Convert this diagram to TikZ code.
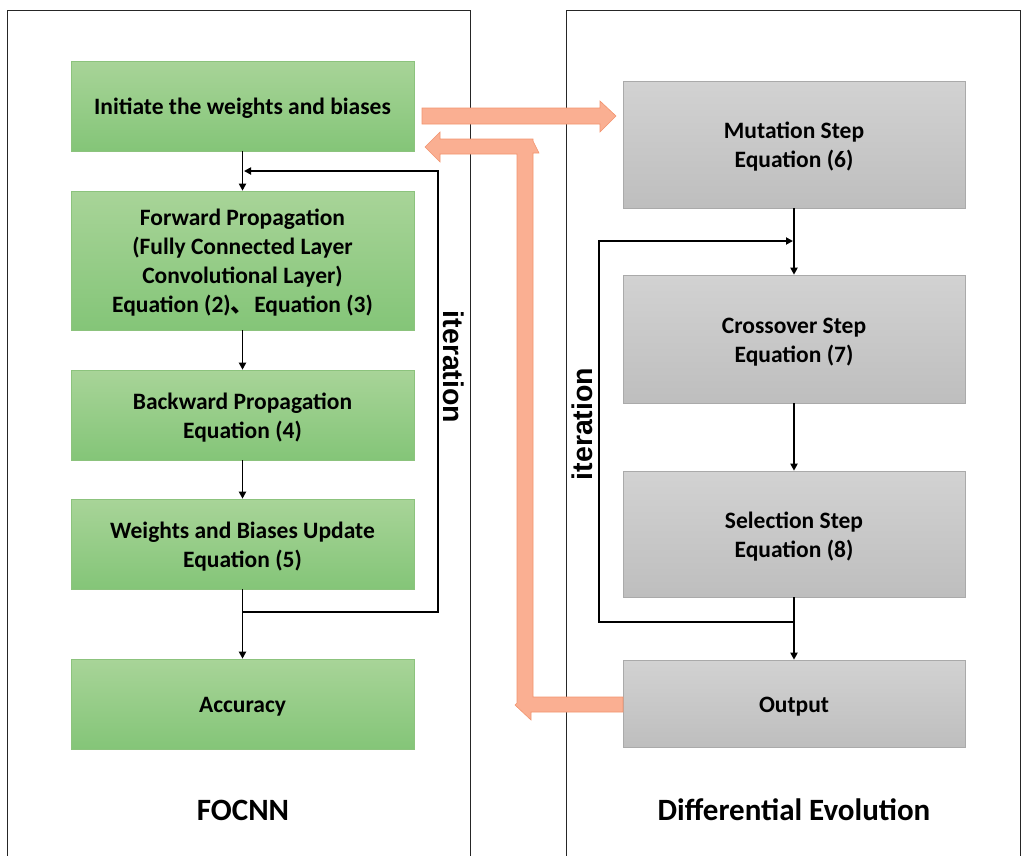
\documentclass[tikz,border=0pt]{standalone}
\usepackage{fontspec}
\setmainfont{Carlito}
\newfontfamily\arialfont{Liberation Sans}
\newfontfamily\cjk{Noto Sans CJK SC}
\usetikzlibrary{arrows.meta}
\newcommand\lowtxt[1]{\raisebox{-3pt}[\height][\depth]{\begin{tabular}{@{}c@{}}#1\end{tabular}}}
\definecolor{gtop}{RGB}{168,212,152}
\definecolor{gbot}{RGB}{132,197,120}
\definecolor{gbrd}{RGB}{140,195,125}
\definecolor{ytop}{RGB}{210,210,210}
\definecolor{ybot}{RGB}{190,190,190}
\definecolor{ybrd}{RGB}{170,170,170}
\definecolor{ofill}{RGB}{250,175,146}
\definecolor{obrd}{RGB}{242,148,110}
\tikzset{
  x=1pt,y=-1pt,
  gbox/.style={draw=gbrd,line width=0.6pt,top color=gtop,bottom color=gbot,minimum width=343pt,inner sep=0pt,font=\fontsize{23.5}{29}\selectfont\bfseries},
  ybox/.style={draw=ybrd,line width=0.6pt,top color=ytop,bottom color=ybot,minimum width=342pt,inner sep=0pt,font=\fontsize{23.5}{29}\selectfont\bfseries},
  conn/.style={line width=1.9pt,-{Triangle[length=7pt,width=7pt]}},
  panel/.style={line width=1pt,draw=black!85},
  itlabel/.style={font=\arialfont\fontsize{28.5}{30}\selectfont\bfseries,inner sep=0pt},
  title/.style={font=\fontsize{31}{34}\selectfont\bfseries,inner sep=0pt},
  blockarrow/.style={fill=ofill,draw=obrd,line width=0.6pt,line join=miter}
}
\begin{document}
\begin{tikzpicture}
\useasboundingbox (0,0) rectangle (1024,855);
% panels
\draw[panel] (7,870) -- (7,10) -- (470,10) -- (470,870);
\draw[panel] (566,870) -- (566,10) -- (1020,10) -- (1020,870);
% green boxes
\node[gbox,minimum height=90pt] (b1) at (242.5,106) {\lowtxt{Initiate the weights and biases}};
\node[gbox,minimum height=139pt] (b2) at (242.5,260.5) {\lowtxt{Forward Propagation\\(Fully Connected Layer\\Convolutional Layer)\\Equation (2){\cjk 、}Equation (3)}};
\node[gbox,minimum height=90pt] (b3) at (242.5,415) {\lowtxt{Backward Propagation\\Equation (4)}};
\node[gbox,minimum height=90pt] (b4) at (242.5,544) {\lowtxt{Weights and Biases Update\\Equation (5)}};
\node[gbox,minimum height=90pt] (b5) at (242.5,704) {\lowtxt{Accuracy}};
% gray boxes
\node[ybox,minimum height=127pt] (m) at (794,144.5) {\lowtxt{Mutation Step\\Equation (6)}};
\node[ybox,minimum height=128pt] (c) at (794,339) {\lowtxt{Crossover Step\\Equation (7)}};
\node[ybox,minimum height=126pt] (s) at (794,534) {\lowtxt{Selection Step\\Equation (8)}};
\node[ybox,minimum height=87pt] (o) at (794,703.5) {\lowtxt{Output}};
% left connectors
\draw[conn] (b1.south) -- (b2.north);
\draw[conn] (b2.south) -- (b3.north);
\draw[conn] (b3.south) -- (b4.north);
\draw[conn] (b4.south) -- (b5.north);
\coordinate (lb) at (243,612);
\coordinate (lr1) at (438,612);
\coordinate (lr2) at (438,171);
\coordinate (lt) at (244,171);
\draw[conn] (lb) -- (lr1) -- (lr2) -- (lt);
% right connectors
\draw[conn] (m.south) -- (c.north);
\draw[conn] (c.south) -- (s.north);
\draw[conn] (s.south) -- (o.north);
\coordinate (rb) at (794,622);
\coordinate (rl1) at (599,622);
\coordinate (rl2) at (599,241);
\coordinate (rt) at (793,241);
\draw[conn] (rb) -- (rl1) -- (rl2) -- (rt);
% iteration labels
\node[itlabel,rotate=-90] (it1) at (454,367) {iteration};
\node[itlabel,rotate=90] (it2) at (582,424) {iteration};
% block arrows
\draw[blockarrow] (422,108) -- (600,108) -- (600,101) -- (616,116) -- (600,132) -- (600,124) -- (422,124) -- cycle;
\draw[blockarrow] (623,697) -- (533,697) -- (533,153) -- (539,153) -- (533,141) -- (533,139) -- (440,139) -- (440,132) -- (425,147) -- (440,162) -- (440,154) -- (517,154) -- (517,703) -- (515,705) -- (531,720) -- (531,712) -- (623,712) -- cycle;
% titles
\node[title] (t1) at (243,810) {FOCNN};
\node[title] (t2) at (794,810) {Differential Evolution};
\end{tikzpicture}
\end{document}
